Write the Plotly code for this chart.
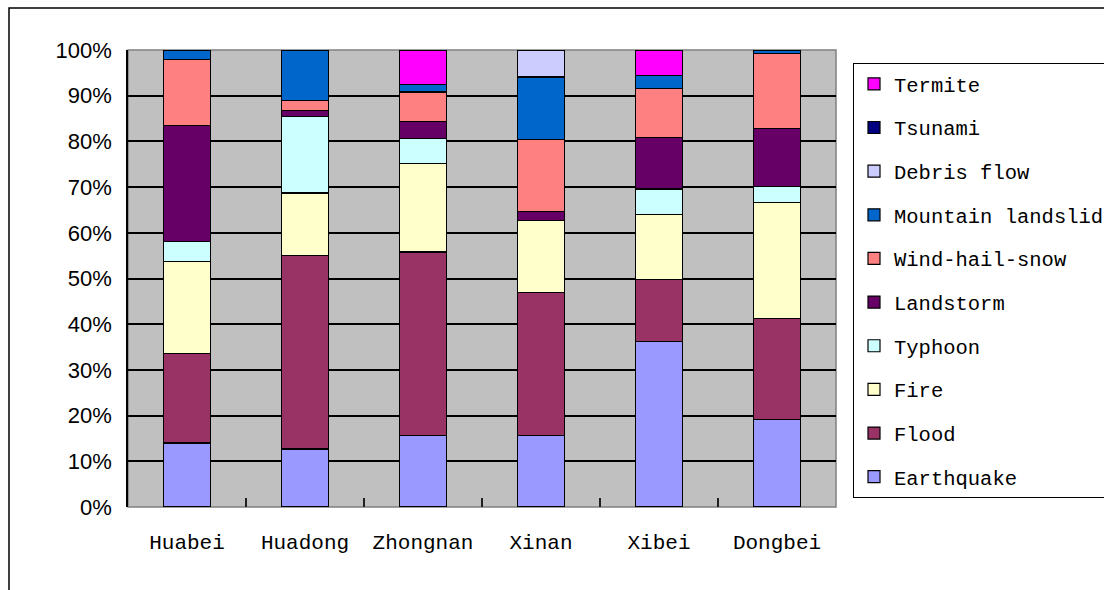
import plotly.graph_objects as go

# Regions and disaster-type shares (percent of each region's total)
regions = ["Huabei", "Huadong", "Zhongnan", "Xinan", "Xibei", "Dongbei"]

earthquake = [14.0, 12.7, 15.7, 15.7, 36.2, 19.2]
flood = [19.6, 42.3, 40.1, 31.3, 13.5, 22.1]
fire = [20.1, 13.7, 19.3, 15.7, 14.3, 25.4]
typhoon = [4.4, 16.8, 5.5, 0.0, 5.6, 3.5]
landstorm = [25.4, 1.3, 3.8, 2.0, 11.2, 12.6]
wind_hail_snow = [14.5, 2.2, 6.4, 15.7, 10.8, 16.4]
mountain_landslide = [2.0, 11.0, 1.6, 13.7, 2.8, 0.8]
debris_flow = [0.0, 0.0, 0.0, 5.9, 0.0, 0.0]
tsunami = [0.0, 0.0, 0.0, 0.0, 0.0, 0.0]
termite = [0.0, 0.0, 7.6, 0.0, 5.6, 0.0]

y_ticks = [0, 10, 20, 30, 40, 50, 60, 70, 80, 90, 100]
y_tick_labels = ["0%", "10%", "20%", "30%", "40%", "50%",
                 "60%", "70%", "80%", "90%", "100%"]

series = [
    ("Earthquake", earthquake, "#9999FF"),
    ("Flood", flood, "#993366"),
    ("Fire", fire, "#FFFFCC"),
    ("Typhoon", typhoon, "#CCFFFF"),
    ("Landstorm", landstorm, "#660066"),
    ("Wind-hail-snow", wind_hail_snow, "#FF8080"),
    ("Mountain landslide", mountain_landslide, "#0066CC"),
    ("Debris flow", debris_flow, "#CCCCFF"),
    ("Tsunami", tsunami, "#000080"),
    ("Termite", termite, "#FF00FF"),
]

W, H = 1104, 590
ML, MR, MT, MB = 128, 268, 50, 83
PW, PH = W - ML - MR, H - MT - MB


def px_x(p):
    return (p - ML) / PW


def px_y(p):
    return 1 - (p - MT) / PH


mono = "Liberation Mono, DejaVu Sans Mono, monospace"

fig = go.Figure()
n = len(series)
for i, (name, vals, color) in enumerate(series):
    fig.add_trace(go.Bar(
        x=regions, y=vals, name=name, legendgroup=name,
        legendrank=1000 + (n - i),  # top of the stack listed first
        marker=dict(color=color, line=dict(color="black", width=1.2)),
    ))

fig.update_layout(
    width=W, height=H,
    barmode="stack", barnorm="percent", bargap=0.605,
    plot_bgcolor="#C0C0C0", paper_bgcolor="white",
    margin=dict(l=ML, r=MR, t=MT, b=MB, autoexpand=False),
    showlegend=True,
    legend=dict(
        x=px_x(853), y=px_y(63), xanchor="left", yanchor="top",
        traceorder="grouped", tracegroupgap=14,
        font=dict(family=mono, size=20.5, color="black"),
        bgcolor="white", bordercolor="black", borderwidth=1,
    ),
    xaxis=dict(
        type="category", tickson="boundaries", ticks="inside", ticklen=9,
        tickwidth=1.5, tickcolor="#202020", showgrid=False, showline=False,
        tickfont=dict(family=mono, size=21, color="black"),
        ticklabelstandoff=20,
    ),
    yaxis=dict(
        range=[0, 100], tickvals=y_ticks, ticktext=y_tick_labels,
        ticks="inside", ticklen=8, tickwidth=1.5, tickcolor="black",
        showgrid=True, gridcolor="black", gridwidth=1.5,
        showline=True, linecolor="black", linewidth=1.5,
        zeroline=False,
        tickfont=dict(family="Liberation Sans Narrow, Arial Narrow, Liberation Sans",
                      size=22, color="black"),
        ticklabelstandoff=10,
    ),
    shapes=[
        # plot-area frame (grey, between gridlines and bars)
        dict(type="rect", xref="paper", yref="paper", x0=0, x1=1, y0=0, y1=1,
             line=dict(color="#808080", width=1.5), layer="between"),
        # outer chart frame
        dict(type="rect", xref="paper", yref="paper",
             x0=px_x(9), x1=px_x(W + 20), y0=px_y(H + 20), y1=px_y(8),
             line=dict(color="black", width=1.5), layer="below"),
    ],
)

fig.write_html("out.html")
